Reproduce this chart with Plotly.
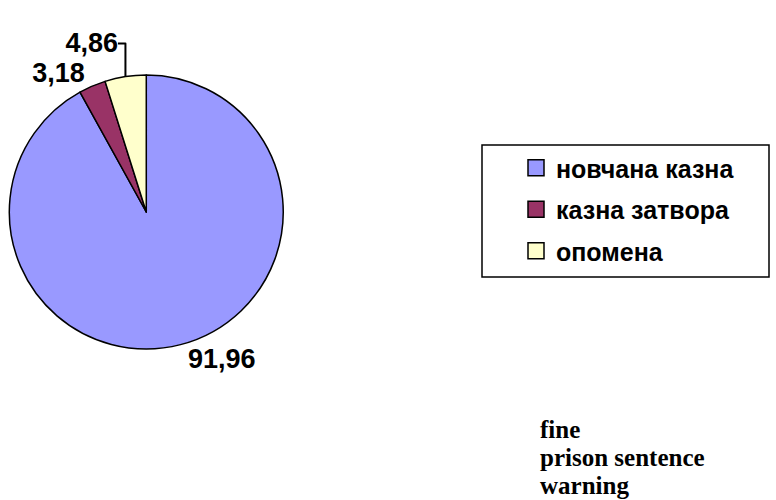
import plotly.graph_objects as go

categories = ["новчана казна", "казна затвора", "опомена"]
values = [91.96, 3.18, 4.86]
colors = ["#9999FF", "#993366", "#FFFFCC"]
english_labels = ["fine", "prison sentence", "warning"]

fig = go.Figure()

fig.add_trace(go.Pie(
    labels=categories,
    values=values,
    sort=False,
    direction="clockwise",
    rotation=0,
    marker=dict(colors=colors, line=dict(color="black", width=1.5)),
    textinfo="value",
    texttemplate="<b>%{value:.2f}</b>",
    textposition="outside",
    textfont=dict(family="Liberation Sans", size=27, color="black"),
    showlegend=False,
    domain=dict(x=[0.012, 0.365], y=[0.302, 0.85]),
    hoverinfo="label+value",
))

# legend entries
for i, (c, col) in enumerate(zip(categories, colors)):
    fig.add_trace(go.Scatter(
        x=[None], y=[None], mode="markers", name=f"<b>{c}</b>",
        legendgroup=str(i),
        marker=dict(symbol="square", size=17, color=col, line=dict(color="black", width=1.5)),
        showlegend=True,
    ))

# legend box
fig.add_shape(type="rect", xref="paper", yref="paper",
              x0=482/776, x1=769/776, y0=1-277/500, y1=1-145/500,
              line=dict(color="black", width=1.5), fillcolor="rgba(0,0,0,0)")

for i, t in enumerate(english_labels):
    fig.add_annotation(
        text=f"<b>{t}</b>", xref="paper", yref="paper",
        x=538/776, y=1-(429+i*28)/500, xanchor="left", yanchor="middle",
        showarrow=False,
        font=dict(family="Liberation Serif", size=25, color="black"),
    )

fig.update_layout(
    width=776, height=500,
    margin=dict(l=0, r=0, t=0, b=0, autoexpand=False),
    paper_bgcolor="white", plot_bgcolor="white",
    separators=",.",
    xaxis=dict(visible=False), yaxis=dict(visible=False),
    legend=dict(
        x=516/776, y=1-145/500, xanchor="left", yanchor="top",
        traceorder="grouped", tracegroupgap=6,
        bgcolor="rgba(0,0,0,0)",
        font=dict(family="Liberation Sans", size=25, color="black"),
        itemwidth=30,
    ),
)

fig.write_html(
    "out.html",
    config={"displayModeBar": False},
    post_script="document.body.style.margin='0';document.body.style.overflow='hidden';",
)
